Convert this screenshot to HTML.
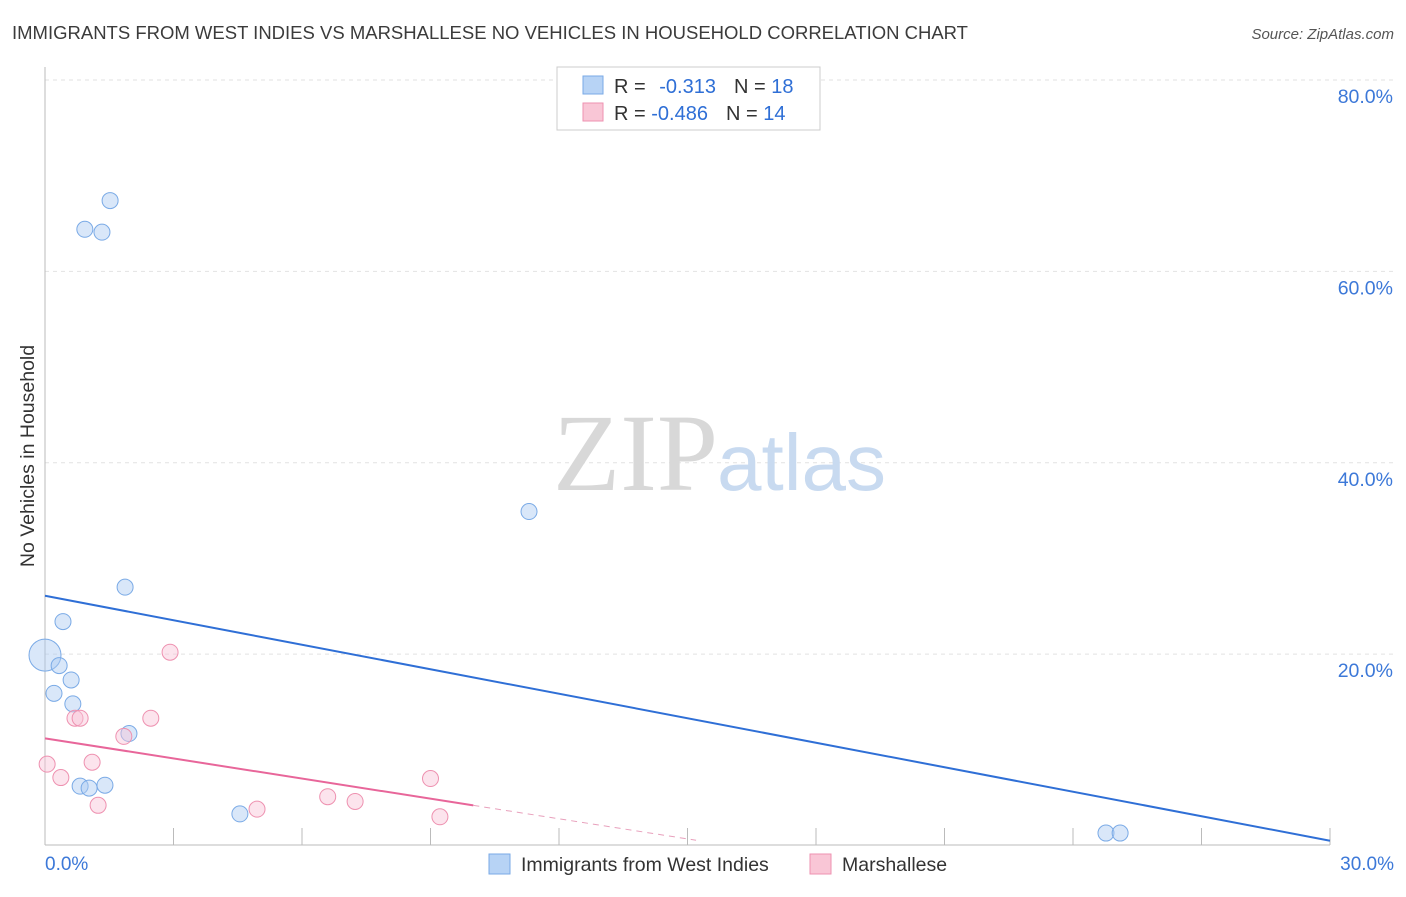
<!DOCTYPE html>
<html><head><meta charset="utf-8"><style>
body{margin:0;background:#fff;font-family:"Liberation Sans",sans-serif;}
svg text{font-family:"Liberation Sans",sans-serif;}
</style></head><body>
<svg id="chart" width="1406" height="892" xmlns="http://www.w3.org/2000/svg">
<text x="12" y="39" font-size="18.5" fill="#3b3b3b">IMMIGRANTS FROM WEST INDIES VS MARSHALLESE NO VEHICLES IN HOUSEHOLD CORRELATION CHART</text>
<text x="1394" y="39" font-size="15" fill="#555" font-style="italic" text-anchor="end">Source: ZipAtlas.com</text>
<g id="grid"></g>
<g id="axes"></g>
<text x="553" y="490" font-size="110" fill="#d8d8d8" style="font-family:'Liberation Serif',serif">ZIP</text>
<text x="717" y="490" font-size="80" fill="#c8daf0">atlas</text>
<g id="lines"></g>
<g id="points"></g>
<text transform="translate(34,456) rotate(-90)" font-size="19.5" fill="#333" text-anchor="middle">No Vehicles in Household</text>
<g>
<rect x="557" y="67" width="263" height="63" fill="#fff" stroke="#ccc"/>
<rect x="583" y="76" width="20" height="18" fill="#b7d3f5" stroke="#7aaae6"/>
<rect x="583" y="103" width="20" height="18" fill="#f9c6d6" stroke="#ee91b0"/>
<text x="614" y="93" font-size="20" fill="#333">R = <tspan fill="#2f6fd6" dx="8">-0.313</tspan><tspan dx="18" fill="#333">N = </tspan><tspan fill="#2f6fd6">18</tspan></text>
<text x="614" y="120" font-size="20" fill="#333">R = <tspan fill="#2f6fd6">-0.486</tspan><tspan dx="18" fill="#333">N = </tspan><tspan fill="#2f6fd6">14</tspan></text>
</g>
<g>
<rect x="489" y="854" width="21" height="20" fill="#b7d3f5" stroke="#7aaae6"/>
<text x="521" y="871" font-size="19.5" fill="#333">Immigrants from West Indies</text>
<rect x="810" y="854" width="21" height="20" fill="#f9c6d6" stroke="#ee91b0"/>
<text x="842" y="871" font-size="19.5" fill="#333">Marshallese</text>
</g>
</svg>
<script>
const yTicks=[20,40,60,80];
const xTickLabels=["0.0%","30.0%"];
const blueX=[0,0.33,0.42,0.21,0.61,0.65,0.93,1.33,1.52,1.87,1.96,0.82,1.03,1.40,4.55,11.3,24.77,25.1];
const blueY=[19.9,18.8,23.4,15.9,17.3,14.8,64.4,64.1,67.4,27.0,11.7,6.2,6.0,6.3,3.3,34.9,1.3,1.3];
const pinkX=[0.05,0.37,0.7,0.82,1.1,1.24,1.84,2.47,2.92,4.95,6.6,7.24,9.0,9.22];
const pinkY=[8.5,7.1,13.3,13.3,8.7,4.2,11.4,13.3,20.2,3.8,5.1,4.6,7.0,3.0];
const blueTrend=[26.1,0.5];
const pinkTrend=[11.2,0.55];
const NS="http://www.w3.org/2000/svg";
const X=v=>45+v*(1330-45)/30;
const Y=v=>845.5-v*(845.5-80)/80;
function mk(p,tag,a){const e=document.createElementNS(NS,tag);for(const k in a)e.setAttribute(k,a[k]);document.getElementById(p).appendChild(e);return e;}
yTicks.forEach(t=>{
 const l=mk('grid','line',{x1:45,x2:1395,y1:Y(t),y2:Y(t),stroke:'#e2e2e2','stroke-dasharray':'4,4'});
 
 
 const tx=mk('grid','text',{x:1393,y:Y(t)+23,'font-size':19.5,fill:'#3c78d8','text-anchor':'end'});
 tx.textContent=t.toFixed(1)+'%';
 
 
});
const ax=mk('axes','line',{x1:45,x2:45,y1:67,y2:845,stroke:'#bbb'});


const bx=mk('axes','line',{x1:45,x2:1330,y1:845,y2:845,stroke:'#bbb'});


for(let i=0;i<=10;i++){
 const t=mk('axes','line',{x1:X(i*3),x2:X(i*3),y1:828,y2:845,stroke:'#bbb'});
 
 
}
[[0,'start',45],[30,'end',1394]].forEach((d,i)=>{
 const t=mk('axes','text',{x:d[2],y:870,'font-size':19,fill:'#3c78d8','text-anchor':d[1]});
 t.textContent=xTickLabels[i];
 
 
});
const bl=mk('lines','line',{x1:X(0),y1:Y(blueTrend[0]),x2:X(30),y2:Y(blueTrend[1]),stroke:'#2f6fd6','stroke-width':2});


const ps=(pinkTrend[1]-pinkTrend[0])/15.2;
const pl=mk('lines','line',{x1:X(0),y1:Y(pinkTrend[0]),x2:X(10),y2:Y(pinkTrend[0]+ps*10),stroke:'#e8669a','stroke-width':2});


const pd=mk('lines','line',{x1:X(10),y1:Y(pinkTrend[0]+ps*10),x2:X(15.2),y2:Y(pinkTrend[1]),stroke:'#e8a0bc','stroke-width':1,'stroke-dasharray':'6,5'});


blueX.forEach((v,i)=>{
 const c=mk('points','circle',{cx:X(v),cy:Y(blueY[i]),r:i==0?16:8,fill:'rgba(170,202,242,0.45)',stroke:'#7aaae6'});
 
 
});
pinkX.forEach((v,i)=>{
 const c=mk('points','circle',{cx:X(v),cy:Y(pinkY[i]),r:8,fill:'rgba(248,196,214,0.45)',stroke:'#ee91b0'});
 
 
});
</script>
</body></html>
